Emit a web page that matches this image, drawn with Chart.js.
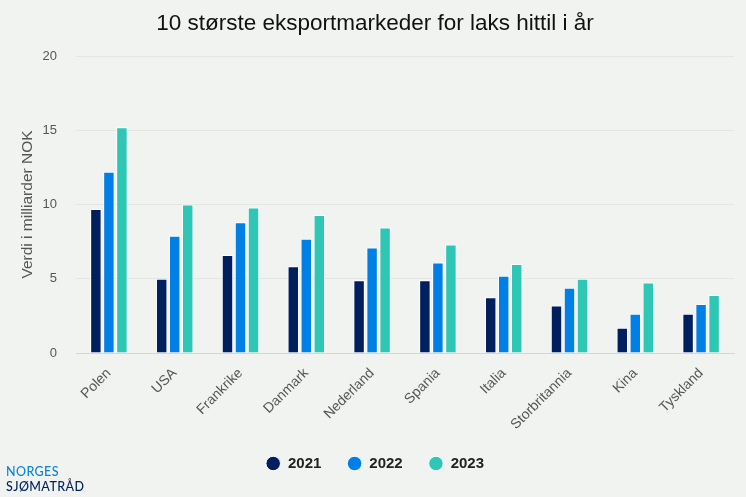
<!DOCTYPE html>
<html><head><meta charset="utf-8">
<script src="https://cdn.jsdelivr.net/npm/chart.js@4"></script>
<style>
html,body{margin:0;padding:0;background:#f1f3f1;width:746px;height:497px;overflow:hidden}
#w{position:absolute;left:0;top:0;width:746px;height:497px}
#logo{position:absolute;left:6px;top:465px;font-family:"Lato","Liberation Sans",sans-serif;font-size:12.5px;line-height:14.5px;letter-spacing:.4px;font-weight:500}
#logo .a{color:#0a84d6}#logo .b{color:#00205f}
</style></head><body>
<div id="w"><canvas id="c" width="746" height="497"></canvas></div>
<div id="logo"><div class="a">NORGES</div><div class="b">SJØMATRÅD</div></div>
<script>
const categories=["Polen","USA","Frankrike","Danmark","Nederland","Spania","Italia","Storbritannia","Kina","Tyskland"];
const v2021=[9.7,5.0,6.6,5.85,4.9,4.9,3.75,3.2,1.7,2.65];
const v2022=[12.2,7.9,8.8,7.7,7.1,6.1,5.2,4.4,2.65,3.3];
const v2023=[15.2,10.0,9.8,9.3,8.45,7.3,6.0,5.0,4.75,3.9];
const seriesNames=["2021","2022","2023"];
const colors=["#001f5f","#0080e6","#2ec7b6"];
const font="'Liberation Sans',Arial,sans-serif";
Chart.defaults.font.family=font;
const ds=(i,d)=>({label:seriesNames[i],data:d,backgroundColor:colors[i],borderColor:"#ffffff",borderWidth:1,
  categoryPercentage:0.593,barPercentage:0.88,pointStyle:"circle"});
new Chart(document.getElementById("c"),{type:"bar",
 data:{labels:categories,datasets:[ds(0,v2021),ds(1,v2022),ds(2,v2023)]},
 options:{responsive:false,animation:false,
  layout:{padding:{left:16,right:12,top:0,bottom:16}},
  plugins:{
   title:{display:true,text:"10 største eksportmarkeder for laks hittil i år",color:"#111",font:{size:22.5,weight:"normal"},padding:{top:10,bottom:19}},
   tooltip:{enabled:false},
   legend:{position:"bottom",labels:{usePointStyle:true,pointStyle:"circle",pointStyleWidth:14.5,boxHeight:10.25,padding:26,color:"#222",font:{size:15,weight:"bold"}}}
  },
  scales:{
   x:{grid:{display:false},border:{color:"#ccd6eb",width:1},
      afterFit(s){s.height=77},
      ticks:{color:"#555",font:{size:14},maxRotation:45,minRotation:45,padding:4}},
   y:{min:0,max:20,
      afterFit(s){s.width=60},
      grid:{color:"#e4e6e4",drawTicks:false},border:{display:false},
      title:{display:true,text:"Verdi i milliarder NOK",color:"#555",font:{size:15.5},padding:{top:2,bottom:0}},
      ticks:{stepSize:5,color:"#555",font:{size:13},padding:19}}
  }}});
</script></body></html>
